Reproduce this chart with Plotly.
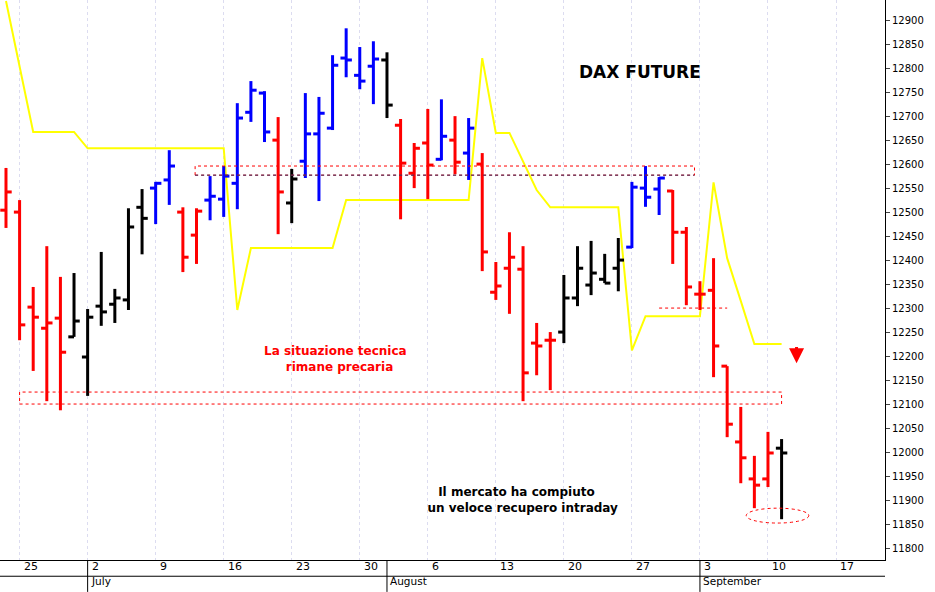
import plotly.graph_objects as go

# trading days 22 Jun - 11 Sep 2018
dates = ["2018-06-22", "2018-06-25", "2018-06-26", "2018-06-27", "2018-06-28", "2018-06-29",
         "2018-07-02", "2018-07-03", "2018-07-04", "2018-07-05", "2018-07-06",
         "2018-07-09", "2018-07-10", "2018-07-11", "2018-07-12", "2018-07-13",
         "2018-07-16", "2018-07-17", "2018-07-18", "2018-07-19", "2018-07-20",
         "2018-07-23", "2018-07-24", "2018-07-25", "2018-07-26", "2018-07-27",
         "2018-07-30", "2018-07-31", "2018-08-01", "2018-08-02", "2018-08-03",
         "2018-08-06", "2018-08-07", "2018-08-08", "2018-08-09", "2018-08-10",
         "2018-08-13", "2018-08-14", "2018-08-15", "2018-08-16", "2018-08-17",
         "2018-08-20", "2018-08-21", "2018-08-22", "2018-08-23", "2018-08-24",
         "2018-08-27", "2018-08-28", "2018-08-29", "2018-08-30", "2018-08-31",
         "2018-09-03", "2018-09-04", "2018-09-05", "2018-09-06", "2018-09-07",
         "2018-09-10", "2018-09-11"]
opens = [12504, 12500, 12302, 12258, 12279, 12240, 12198, 12304, 12308, 12317, 12510,
         12550, 12567, 12500, 12452, 12525, 12527, 12560, 12708, 12748, 12650,
         12519, 12606, 12663, 12675, 12821, 12785, 12804, 12817, 12681, 12581,
         12644, 12610, 12650, 12623, 12600, 12333, 12383, 12381, 12227, 12233,
         12250, 12321, 12348, 12360, 12383, 12427, 12550, 12548, 12544, 12458,
         12329, 12337, 12179, 12021, 11944, 11944, 12008]
highs = [12592, 12525, 12344, 12429, 12365, 12373, 12298, 12417, 12340, 12508, 12548,
         12563, 12629, 12510, 12508, 12575, 12596, 12727, 12773, 12752, 12698,
         12590, 12748, 12740, 12827, 12883, 12844, 12856, 12833, 12694, 12644,
         12715, 12735, 12700, 12696, 12623, 12396, 12458, 12429, 12269, 12250,
         12369, 12429, 12440, 12413, 12446, 12563, 12596, 12573, 12546, 12469,
         12356, 12404, 12179, 12094, 11992, 12042, 12027]
lows = [12467, 12233, 12169, 12106, 12087, 12240, 12117, 12263, 12269, 12296, 12412,
        12475, 12515, 12375, 12392, 12483, 12490, 12506, 12688, 12646, 12454,
        12477, 12571, 12523, 12671, 12781, 12756, 12725, 12696, 12485, 12550,
        12527, 12608, 12579, 12567, 12377, 12317, 12288, 12106, 12160, 12129,
        12227, 12304, 12327, 12352, 12335, 12425, 12511, 12494, 12392, 12306,
        12296, 12156, 12031, 11935, 11883, 11927, 11860]
closes = [12542, 12265, 12281, 12269, 12208, 12273, 12281, 12292, 12321, 12469, 12487,
          12560, 12596, 12406, 12502, 12533, 12575, 12696, 12754, 12667, 12542,
          12569, 12663, 12706, 12806, 12817, 12773, 12819, 12723, 12602, 12633,
          12598, 12658, 12604, 12675, 12417, 12346, 12406, 12165, 12221, 12233,
          12321, 12383, 12373, 12352, 12400, 12552, 12531, 12571, 12458, 12344,
          12329, 12221, 12058, 11988, 11931, 11998, 11998]
bar_colors = (["red"] * 5 + ["black"] * 6 + ["blue"] * 2 + ["red"] * 2 + ["blue"] * 5 + ["red"]
              + ["black"] + ["blue"] * 6 + ["black"] + ["red"] * 3 + ["blue", "red", "blue"]
              + ["red"] * 6 + ["black"] * 5 + ["blue"] * 3 + ["red"] * 8 + ["black"])
trail = [12940, 12800, 12667, 12667, 12667, 12667, 12633, 12633, 12633, 12633, 12633,
         12633, 12633, 12633, 12633, 12633, 12633, 12296, 12425, 12425, 12425,
         12425, 12425, 12425, 12425, 12525, 12525, 12525, 12525, 12525, 12525,
         12525, 12525, 12525, 12525, 12821, 12665, 12665, 12604, 12546, 12510,
         12510, 12510, 12510, 12510, 12510, 12212, 12283, 12283, 12283, 12283,
         12283, 12562, 12404, 12315, 12225, 12225, 12225]

week_idx = [1, 6, 11, 16, 21, 26, 31, 36, 41, 46, 51, 56, 61]
week_lbl = ["25", "2", "9", "16", "23", "30", "6", "13", "20", "27", "3", "10", "17"]
month_idx = [6, 28, 51]
month_lbl = ["July", "August", "September"]

fig = go.Figure()
fig.add_trace(go.Scatter(x=list(range(len(dates))), y=trail, mode="lines",
                         line=dict(color="#ffff00", width=2), showlegend=False, hoverinfo="skip"))
t = 0.42
for col in ["black", "red", "blue"]:
    xs, ys = [], []
    for i in range(len(dates)):
        if bar_colors[i] != col:
            continue
        xs += [i, i, None, i - t, i, None, i, i + t, None]
        ys += [lows[i], highs[i], None, opens[i], opens[i], None, closes[i], closes[i], None]
    fig.add_trace(go.Scatter(x=xs, y=ys, mode="lines", line=dict(color=col, width=3),
                             hoverinfo="skip", showlegend=False))

# boxes / guides
fig.add_shape(type="rect", x0=13.9, x1=50.6, y0=12577, y1=12596, line=dict(color="red", width=1, dash="dot"))
fig.add_shape(type="line", x0=13.9, x1=50.6, y0=12577, y1=12577, line=dict(color="#333366", width=1, dash="dot"))
fig.add_shape(type="rect", x0=1, x1=57, y0=12100, y1=12125, line=dict(color="red", width=1, dash="dot"))
fig.add_shape(type="line", x0=48, x1=53, y0=12300, y1=12300, line=dict(color="red", width=1, dash="dot"))
fig.add_shape(type="circle", x0=54.4, x1=59, y0=11852, y1=11883, line=dict(color="red", width=1, dash="dot"))
fig.add_annotation(x=58.1, y=12185, ax=58.1, ay=12222, axref="x", ayref="y", showarrow=True,
                   arrowhead=2, arrowsize=1, arrowwidth=3, arrowcolor="red", text="")

for wi, wl in zip(week_idx, week_lbl):
    fig.add_annotation(x=wi, y=0, yref="paper", yanchor="top", xanchor="left", xshift=2, yshift=2,
                       text=wl, showarrow=False, font=dict(size=11, color="black"))
for mi, ml in zip(month_idx, month_lbl):
    fig.add_shape(type="line", x0=mi, x1=mi, y0=-0.057, y1=0, yref="paper",
                  line=dict(color="black", width=1))
    fig.add_annotation(x=mi, y=-0.029, yref="paper", yanchor="top", xanchor="left", xshift=1, yshift=3,
                       text=ml, showarrow=False, font=dict(size=10.5, color="black"))
fig.add_shape(type="line", x0=0, x1=1, xref="paper", y0=-0.029, y1=-0.029, yref="paper",
              line=dict(color="black", width=1))

fig.add_annotation(x=46.6, y=12793, text="<b>DAX FUTURE</b>", showarrow=False, font=dict(size=17, color="black"))
fig.add_annotation(x=24.2, y=12194, text="<b>La situazione tecnica<br>  rimane precaria</b>", showarrow=False,
                   font=dict(size=12, color="red"), align="center")
fig.add_annotation(x=37.5, y=11900, text="<b>Il mercato ha compiuto<br>   un veloce recupero intraday</b>",
                   showarrow=False, font=dict(size=12, color="black"), align="center")

fig.update_layout(
    width=935, height=592, margin=dict(l=0, r=50, t=0, b=32, autoexpand=False),
    plot_bgcolor="white", paper_bgcolor="white",
    font=dict(family="DejaVu Sans", size=11, color="black"),
    xaxis=dict(range=[-0.44, 64.6], tickvals=week_idx, showticklabels=False, automargin=False,
               showgrid=True, gridcolor="#dcdcf0", griddash="dot", gridwidth=1, zeroline=False,
               showline=True, linecolor="black", mirror=True, ticks=""),
    yaxis=dict(range=[11775, 12942], side="right", dtick=50, tick0=11800, tickformat="d",
               ticks="outside", ticklen=4, showgrid=False, zeroline=False, showline=True,
               automargin=False, linecolor="black", mirror=True, tickfont=dict(size=10)),
)
fig.write_html("out.html", config={"displayModeBar": False},
               post_script="document.body.style.margin='0';")
